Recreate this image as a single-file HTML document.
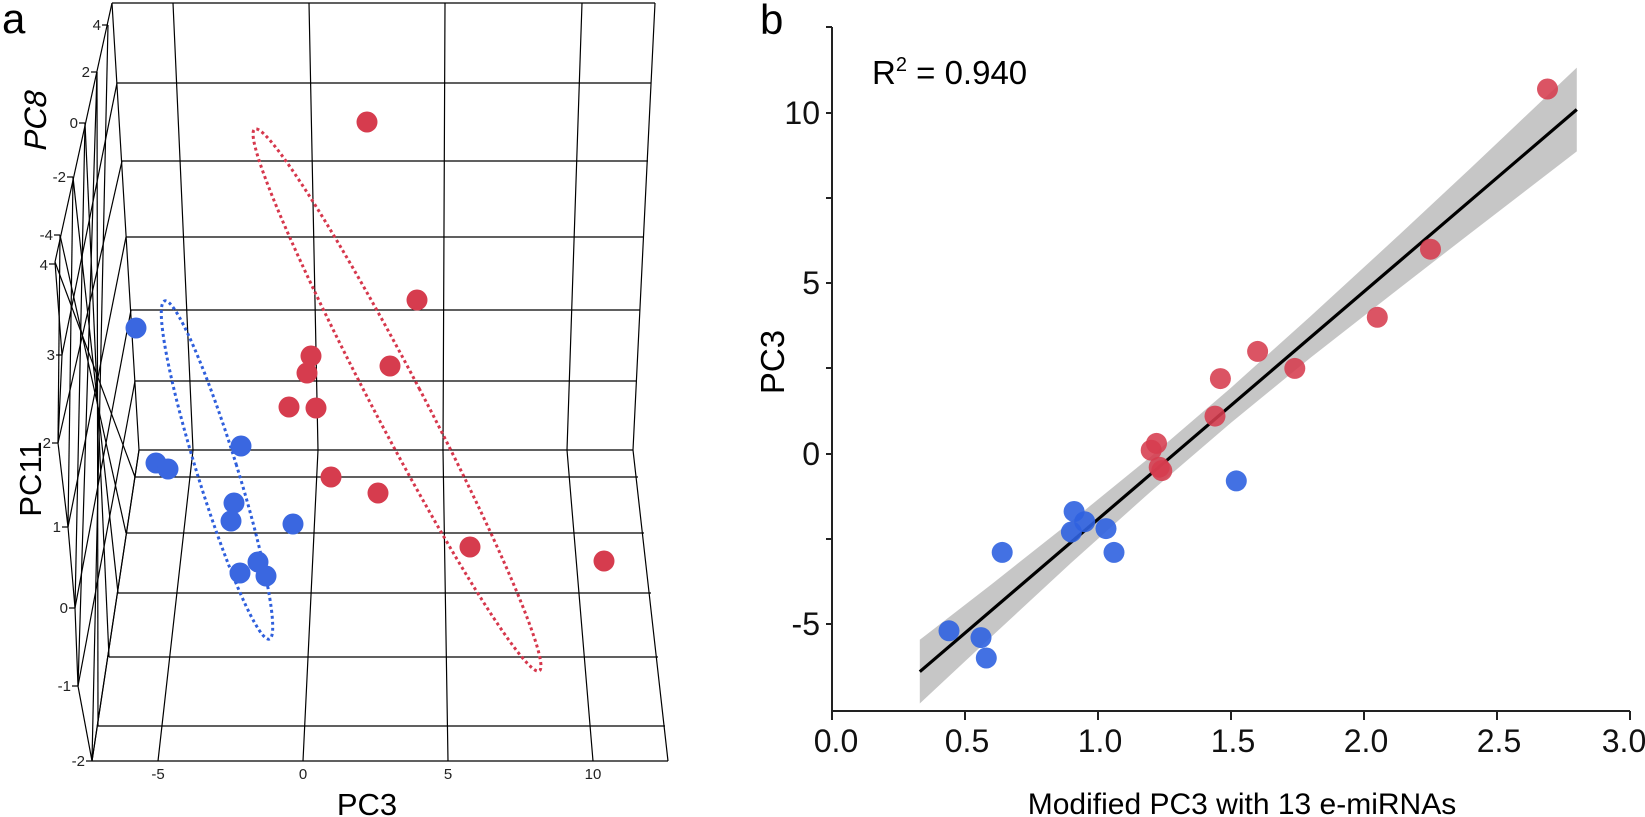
<!DOCTYPE html>
<html><head><meta charset="utf-8"><style>
html,body{margin:0;padding:0;background:#fff;}
svg{display:block;font-family:"Liberation Sans",Arial,sans-serif;}
</style></head><body>
<svg width="1645" height="817" viewBox="0 0 1645 817" xmlns="http://www.w3.org/2000/svg">
<rect width="1645" height="817" fill="#fff"/>
<!-- ===== Panel a ===== -->
<text x="2" y="33" font-size="42">a</text>
<g stroke="#000" stroke-width="1.2" fill="none">
<!-- back wall horizontals -->
<line x1="112" y1="3" x2="655" y2="3"/>
<line x1="117" y1="83" x2="651" y2="83"/>
<line x1="122" y1="161" x2="648" y2="161"/>
<line x1="126" y1="237" x2="644" y2="237"/>
<line x1="131" y1="310" x2="640" y2="310"/>
<line x1="135" y1="381" x2="637" y2="381"/>
<line x1="139" y1="450" x2="633" y2="450"/>
<!-- floor horizontals -->
<line x1="135" y1="477" x2="638" y2="477"/>
<line x1="126" y1="533" x2="644" y2="533"/>
<line x1="118" y1="593" x2="651" y2="593"/>
<line x1="109" y1="657" x2="658" y2="657"/>
<line x1="98" y1="726" x2="665" y2="726"/>
<line x1="92" y1="761" x2="668" y2="761"/>
<!-- verticals -->
<polyline points="173,3 193,450 158,761"/>
<polyline points="309,3 318,450 303,761"/>
<polyline points="445,3 443,450 448,761"/>
<polyline points="582,3 567,450 593,761"/>
<polyline points="655,3 633,450 668,761"/>
<!-- left wall -->
<polyline points="112,3 139,450 92,761"/>
<polyline points="112,3 55,262 62,355 58,443 68,527 75,608 78,686 92,761"/>
<line x1="108" y1="25" x2="92" y2="761"/>
<line x1="97" y1="72" x2="78" y2="686"/>
<line x1="85" y1="123" x2="75" y2="608"/>
<line x1="73" y1="177" x2="68" y2="527"/>
<line x1="60" y1="235" x2="58" y2="443"/>
<line x1="117" y1="83" x2="62" y2="355"/>
<line x1="122" y1="161" x2="58" y2="443"/>
<line x1="126" y1="237" x2="68" y2="527"/>
<line x1="131" y1="310" x2="75" y2="608"/>
<line x1="135" y1="381" x2="78" y2="686"/>
<line x1="139" y1="450" x2="92" y2="761"/>
<line x1="135" y1="477" x2="55" y2="262"/>
<line x1="126" y1="533" x2="60" y2="235"/>
<line x1="118" y1="593" x2="73" y2="177"/>
<line x1="109" y1="657" x2="85" y2="123"/>
<line x1="98" y1="726" x2="97" y2="72"/>
<!-- ticks -->
<line x1="102" y1="25" x2="108" y2="25"/><line x1="91" y1="72" x2="97" y2="72"/>
<line x1="79" y1="123" x2="85" y2="123"/><line x1="67" y1="177" x2="73" y2="177"/>
<line x1="54" y1="235" x2="60" y2="235"/><line x1="49" y1="264" x2="55" y2="264"/>
<line x1="56" y1="355" x2="62" y2="355"/><line x1="52" y1="443" x2="58" y2="443"/>
<line x1="62" y1="527" x2="68" y2="527"/><line x1="69" y1="608" x2="75" y2="608"/>
<line x1="72" y1="686" x2="78" y2="686"/><line x1="86" y1="761" x2="92" y2="761"/>
</g>
<g font-size="15" fill="#222" text-anchor="end">
<text x="101" y="30">4</text><text x="90" y="77">2</text><text x="78" y="128">0</text>
<text x="66" y="182">-2</text><text x="53" y="240">-4</text><text x="48" y="270">4</text>
<text x="55" y="360">3</text><text x="51" y="448">2</text><text x="61" y="532">1</text>
<text x="68" y="613">0</text><text x="71" y="691">-1</text><text x="85" y="766">-2</text>
</g>
<g font-size="15" fill="#222" text-anchor="middle">
<text x="158" y="779">-5</text><text x="303" y="779">0</text><text x="448" y="779">5</text><text x="593" y="779">10</text>
</g>
<text x="367" y="815" font-size="31" text-anchor="middle">PC3</text>
<text transform="translate(41,479) rotate(-90)" font-size="31" text-anchor="middle">PC11</text>
<text transform="translate(46,122) rotate(-90) skewX(-12)" font-size="31" text-anchor="middle">PC8</text>
<!-- ellipses -->
<ellipse cx="217" cy="470" rx="20" ry="177" transform="rotate(-17.2 217 470)" fill="none" stroke="#2f5fdc" stroke-width="3" stroke-dasharray="3 3"/>
<ellipse cx="397" cy="400" rx="25" ry="306" transform="rotate(-27.7 397 400)" fill="none" stroke="#d6374c" stroke-width="3" stroke-dasharray="3 3"/>
<!-- points a -->
<g fill="#3a67e0">
<circle cx="136" cy="328" r="10.5"/><circle cx="156" cy="463" r="10.5"/><circle cx="168" cy="469" r="10.5"/>
<circle cx="241" cy="446" r="10.5"/><circle cx="234" cy="503" r="10.5"/><circle cx="231" cy="521" r="10.5"/>
<circle cx="293" cy="524" r="10.5"/><circle cx="258" cy="562" r="10.5"/><circle cx="240" cy="573" r="10.5"/>
<circle cx="266" cy="576" r="10.5"/>
</g>
<g fill="#d63c4e">
<circle cx="367" cy="122" r="10.5"/><circle cx="417" cy="300" r="10.5"/><circle cx="311" cy="356" r="10.5"/>
<circle cx="307" cy="373" r="10.5"/><circle cx="390" cy="366" r="10.5"/><circle cx="289" cy="407" r="10.5"/>
<circle cx="316" cy="408" r="10.5"/><circle cx="331" cy="477" r="10.5"/><circle cx="378" cy="493" r="10.5"/>
<circle cx="470" cy="547" r="10.5"/><circle cx="604" cy="561" r="10.5"/>
</g>

<!-- ===== Panel b ===== -->
<text x="760" y="34" font-size="42">b</text>
<text x="872" y="84" font-size="33">R<tspan font-size="20" dy="-13">2</tspan><tspan dy="13"> = 0.940</tspan></text>
<polygon fill="#c6c6c6" points="919.8,639.8 991.6,584.2 1071.4,521.1 1151.2,456.2 1231,387.7 1310.8,316 1390.6,242.8 1470.4,168.4 1576.8,67.6 1576.8,151.4 1470.4,233.2 1390.6,295.1 1310.8,357.5 1231,422.7 1151.2,491.2 1071.4,562.6 991.6,636.5 919.8,703.5"/>
<line x1="919.8" y1="671.7" x2="1576.8" y2="109.5" stroke="#000" stroke-width="3.2"/>
<g fill="#d63c4e" fill-opacity="0.88">
<circle cx="1547.5" cy="89" r="10.5"/><circle cx="1430.5" cy="249.2" r="10.5"/><circle cx="1377.3" cy="317.3" r="10.5"/>
<circle cx="1294.8" cy="368.4" r="10.5"/><circle cx="1257.6" cy="351.4" r="10.5"/><circle cx="1220.4" cy="378.6" r="10.5"/>
<circle cx="1215" cy="416.1" r="10.5"/><circle cx="1156.5" cy="443.4" r="10.5"/><circle cx="1151.2" cy="450.2" r="10.5"/>
<circle cx="1159.2" cy="467.2" r="10.5"/><circle cx="1161.8" cy="470.6" r="10.5"/>
</g>
<g fill="#2f62e0" fill-opacity="0.9">
<circle cx="1236.3" cy="480.9" r="10.5"/><circle cx="1074.1" cy="511.5" r="10.5"/><circle cx="1084.7" cy="521.7" r="10.5"/>
<circle cx="1071.4" cy="532" r="10.5"/><circle cx="1106" cy="528.6" r="10.5"/><circle cx="1114" cy="552.4" r="10.5"/>
<circle cx="1002.2" cy="552.4" r="10.5"/><circle cx="949" cy="630.8" r="10.5"/><circle cx="981" cy="637.6" r="10.5"/>
<circle cx="986.3" cy="658" r="10.5"/>
</g>
<g stroke="#222" stroke-width="2" fill="none">
<polyline points="832,27 832,711 1630,711"/>
<line x1="826" y1="27" x2="832" y2="27"/>
<line x1="826" y1="113" x2="832" y2="113"/><line x1="826" y1="198" x2="832" y2="198"/>
<line x1="826" y1="283" x2="832" y2="283"/><line x1="826" y1="368" x2="832" y2="368"/>
<line x1="826" y1="454" x2="832" y2="454"/><line x1="826" y1="539" x2="832" y2="539"/>
<line x1="826" y1="624" x2="832" y2="624"/>
<line x1="832" y1="711" x2="832" y2="720"/><line x1="965" y1="711" x2="965" y2="720"/>
<line x1="1098" y1="711" x2="1098" y2="720"/><line x1="1231" y1="711" x2="1231" y2="720"/>
<line x1="1364" y1="711" x2="1364" y2="720"/><line x1="1497" y1="711" x2="1497" y2="720"/>
<line x1="1630" y1="711" x2="1630" y2="720"/>
</g>
<g font-size="32" fill="#111" text-anchor="end">
<text x="820" y="124">10</text><text x="820" y="294">5</text><text x="820" y="465">0</text><text x="820" y="635">-5</text>
</g>
<g font-size="32" fill="#111" text-anchor="middle">
<text x="836" y="752">0.0</text><text x="967" y="752">0.5</text><text x="1100" y="752">1.0</text>
<text x="1233" y="752">1.5</text><text x="1366" y="752">2.0</text><text x="1499" y="752">2.5</text><text x="1624" y="752">3.0</text>
</g>
<text x="1242" y="814" font-size="30" text-anchor="middle">Modified PC3 with 13 e-miRNAs</text>
<text transform="translate(784,362) rotate(-90)" font-size="33" text-anchor="middle">PC3</text>
</svg>
</body></html>
